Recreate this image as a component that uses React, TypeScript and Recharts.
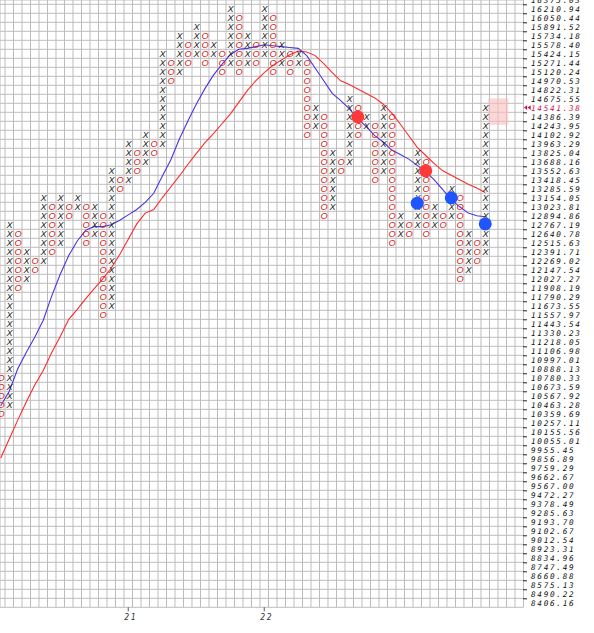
import React from 'react';
import { ComposedChart, XAxis, YAxis, CartesianGrid, Scatter, Line, ReferenceArea } from 'recharts';

// ---------- data (box rows: 0 = 16210.94 line, increasing downward) ----------
const FIRST_COLUMN = -1;
const columnTypes = ['O','X','O','X','O','X','O','X','O','X','O','X','O','X','O','X','O','X','O','X','O','X','O','X','O','X','O','X','O','X','O','X','O','X','O','X','O','X','O','X','O','X','O','X','O','X','O','X','O','X','O','X','O','X','O','X','O','X'];
const columnTops = [41,24,25,27,28,21,22,21,22,21,22,22,23,18,19,15,16,14,15,5,6,3,4,2,3,4,5,0,1,3,4,0,1,4,5,5,6,11,12,16,17,10,11,12,13,11,12,23,24,16,17,22,23,20,21,25,26,11];
const columnBottoms = [45,44,31,30,29,28,27,26,23,22,26,25,34,33,20,19,18,17,16,15,8,7,6,5,6,5,7,6,7,6,6,5,7,6,7,6,14,13,23,22,18,17,14,13,19,18,26,25,25,24,25,24,24,23,30,29,28,27];

const FIRST_PRICE_ROW = -1;
const priceLabels = ['16375.03','16210.94','16050.44','15891.52','15734.18','15578.40','15424.15','15271.44','15120.24','14970.53','14822.31','14675.55','14541.38','14386.39','14243.95','14102.92','13963.29','13825.04','13688.16','13552.63','13418.45','13285.59','13154.05','13023.81','12894.86','12767.19','12640.78','12515.63','12391.71','12269.02','12147.54','12027.27','11908.19','11790.29','11673.55','11557.97','11443.54','11330.23','11218.05','11106.98','10997.01','10888.13','10780.33','10673.59','10567.92','10463.28','10359.69','10257.11','10155.56','10055.01','9955.45','9856.89','9759.29','9662.67','9567.00','9472.27','9378.49','9285.63','9193.70','9102.67','9012.54','8923.31','8834.96','8747.49','8660.88','8575.13','8490.22','8406.16'];
const CURRENT_ROW = 11;

const dateLabels = ['21', '22'];
const dateColumns = [14, 30];

const fastAverage = [44.6,43.0,40.5,38.7,37.0,35.1,32.4,30.0,27.9,26.3,25.1,24.7,24.7,24.5,24.0,23.4,22.8,22.0,21.0,19.1,17.3,15.0,13.0,11.1,9.4,7.9,6.7,5.6,5.0,4.9,4.7,4.5,4.6,4.7,4.8,4.9,5.7,7.1,8.5,9.9,10.7,11.6,12.7,13.6,14.6,15.3,16.2,16.7,17.2,17.9,18.6,19.5,20.6,21.7,22.5,23.2,23.5,23.6];
const slowAverage = [50.4,48.3,46.2,44.2,42.3,40.7,38.7,36.9,35.0,33.9,32.7,31.6,30.5,29.3,27.8,26.1,24.4,23.2,22.8,21.5,20.3,19.1,17.8,16.6,15.4,14.4,13.3,12.2,10.9,9.6,8.5,7.6,6.8,6.2,5.6,5.2,5.3,5.7,6.6,7.6,8.5,8.9,9.4,9.9,10.4,11.1,12.1,13.3,14.6,15.9,16.8,17.7,18.5,19.0,19.5,20.0,20.4,20.9];

const signalColumns = [41, 49, 48, 52, 56];
const signalLevels = [12.5, 18.5, 22.1, 21.5, 24.4];
const signalKinds = ['sell', 'sell', 'buy', 'buy', 'buy'];

// ---------- layout ----------
const W = 594;
const H = 633;
const X_DOMAIN: [number, number] = [-0.588, 61];
const Y_DOMAIN: [number, number] = [-0.478, 67];
const HALF_COLUMN_PX = 4.25;
const LABEL_FONT = '"DejaVu Sans Mono", monospace';
const MARK_FONT = '"Liberation Sans", Arial, sans-serif';

const gridColumns: number[] = [];
for (let c = 0; c <= 61; c++) gridColumns.push(c);
const gridRows: number[] = [];
for (let r = -1; r <= 67; r++) gridRows.push(r);

const boxes: { v: number; u: number; t: string }[] = [];
columnTypes.forEach((t, i) => {
  for (let r = columnTops[i]; r <= columnBottoms[i]; r++) {
    boxes.push({ v: FIRST_COLUMN + i + 0.5, u: r + 0.5, t });
  }
});
const fastData = fastAverage.map((u, i) => ({ v: FIRST_COLUMN + i + 0.5, u }));
const slowData = slowAverage.map((u, i) => ({ v: FIRST_COLUMN + i + 0.5, u }));
const signals = signalColumns.map((c, i) => ({ v: c + 0.5, u: signalLevels[i], kind: signalKinds[i] }));

const BoxMark = (props: any) => {
  const { cx, cy, payload } = props;
  if (cx == null || cy == null) return null;
  const isX = payload.t === 'X';
  return (
    <text x={cx + 0.3} y={cy + 3.3} textAnchor="middle" fontFamily={MARK_FONT} fontStyle="italic"
      fontSize={9.2} fill={isX ? '#1e1e1e' : '#d81818'}>
      {payload.t}
    </text>
  );
};

const SignalDot = (props: any) => {
  const { cx, cy, payload } = props;
  if (cx == null || cy == null) return null;
  return <circle cx={cx} cy={cy} r={6.5} fill={payload.kind === 'sell' ? '#ff3838' : '#1f55ff'} />;
};

const PriceTick = (props: any) => {
  const { x, y, payload } = props;
  const row = payload.value as number;
  const label = priceLabels[row - FIRST_PRICE_ROW];
  if (label === undefined) return null;
  const current = row === CURRENT_ROW;
  return (
    <g>
      {current ? (
        <g fill="#c8124c">
          <path d={`M${x + 0.5},${y + 4.3} L${x + 3.6},${y + 2} L${x + 3.6},${y + 6.6} Z`} />
          <path d={`M${x + 4.1},${y + 4.3} L${x + 7.2},${y + 2} L${x + 7.2},${y + 6.6} Z`} />
        </g>
      ) : (
        <line x1={x - 0.5} x2={x + 3.5} y1={y + 0.5} y2={y + 0.5} stroke="#222" strokeWidth={1} />
      )}
      <text x={x + 7.5} y={y + 7.2} fontFamily={LABEL_FONT} fontStyle="italic" fontSize={7.7}
        letterSpacing={1.7} fill={current ? '#c8124c' : '#111'}>
        {label}
      </text>
    </g>
  );
};

const DateTick = (props: any) => {
  const { x, y, payload } = props;
  const idx = dateColumns.indexOf(payload.value);
  if (idx < 0) return null;
  const cx = x + HALF_COLUMN_PX;
  return (
    <g>
      <line x1={cx} x2={cx} y1={y} y2={y + 4} stroke="#555" strokeWidth={1} />
      <text x={cx + 2.5} y={y + 13} textAnchor="middle" fontFamily={LABEL_FONT} fontStyle="italic"
        fontSize={8} letterSpacing={1.6} fill="#333">
        {dateLabels[idx]}
      </text>
    </g>
  );
};

export default function App() {
  return (
    <div style={{ position: 'absolute', left: 0, top: 0, width: W, height: H, background: '#fff' }}>
      <ComposedChart width={W} height={H} margin={{ top: 0, right: 0, bottom: 0, left: 0 }}>
        <XAxis xAxisId="cols" dataKey="v" type="number" domain={X_DOMAIN} allowDataOverflow
          ticks={gridColumns} interval={0} height={25.7} tick={<DateTick />} tickLine={false}
          axisLine={false} tickSize={0} tickMargin={0} />
        <YAxis yAxisId="p" dataKey="u" type="number" orientation="right" domain={Y_DOMAIN} reversed
          allowDataOverflow ticks={gridRows} interval={0} width={70.5} tick={<PriceTick />}
          tickLine={false} axisLine={false} tickSize={0} tickMargin={0} />
        <CartesianGrid xAxisId="cols" yAxisId="p" stroke="#bdbdbd" strokeWidth={1} />
        <ReferenceArea xAxisId="cols" yAxisId="p" x1={56.86} x2={59.2} y1={10.45} y2={13.4}
          fill="#f8bcbc" fillOpacity={0.6} stroke="none" ifOverflow="visible" />
        <Scatter xAxisId="cols" yAxisId="p" data={boxes} dataKey="u" shape={<BoxMark />}
          isAnimationActive={false} />
        <Line xAxisId="cols" yAxisId="p" data={slowData} dataKey="u" type="linear" stroke="#ff2a2a"
          strokeWidth={1.1} dot={false} activeDot={false} isAnimationActive={false} />
        <Line xAxisId="cols" yAxisId="p" data={fastData} dataKey="u" type="linear" stroke="#4a35dd"
          strokeWidth={1.1} dot={false} activeDot={false} isAnimationActive={false} />
        <Scatter xAxisId="cols" yAxisId="p" data={signals} dataKey="u" shape={<SignalDot />}
          isAnimationActive={false} />
      </ComposedChart>
    </div>
  );
}
